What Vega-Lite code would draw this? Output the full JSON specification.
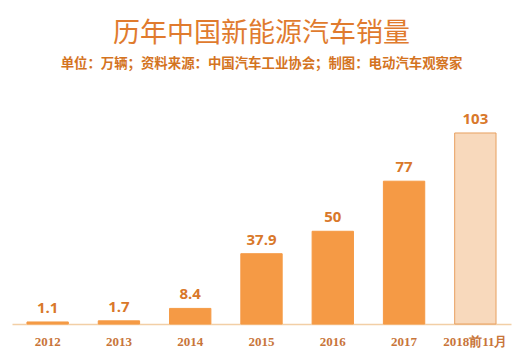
{
  "$schema": "https://vega.github.io/schema/vega-lite/v6.json",
  "width": 499,
  "height": 204,
  "autosize": {"type": "none"},
  "padding": {"left": 12, "top": 120, "right": 15, "bottom": 38},
  "background": "#ffffff",
  "title": {
    "text": "历年中国新能源汽车销量",
    "subtitle": "单位：万辆；资料来源：中国汽车工业协会；制图：电动汽车观察家",
    "anchor": "middle",
    "frame": "group",
    "font": "Noto Sans CJK SC",
    "fontSize": 27,
    "fontWeight": "normal",
    "color": "#E07B2E",
    "subtitleFont": "Noto Sans CJK SC",
    "subtitleFontSize": 13.4,
    "subtitleFontWeight": "bold",
    "subtitleColor": "#D4741F",
    "subtitlePadding": 9,
    "offset": 41
  },
  "data": {
    "values": [
      {"year": "2012", "sales": 1.1, "type": "actual"},
      {"year": "2013", "sales": 1.7, "type": "actual"},
      {"year": "2014", "sales": 8.4, "type": "actual"},
      {"year": "2015", "sales": 37.9, "type": "actual"},
      {"year": "2016", "sales": 50, "type": "actual"},
      {"year": "2017", "sales": 77, "type": "actual"},
      {"year": "2018前11月", "sales": 103, "type": "partial"}
    ]
  },
  "encoding": {
    "x": {
      "field": "year",
      "type": "nominal",
      "sort": null,
      "scale": {"paddingInner": 0.42, "paddingOuter": 0.21},
      "axis": {
        "title": null,
        "labelAngle": 0,
        "labelFont": "Liberation Serif",
        "labelFontSize": 13,
        "labelFontWeight": "bold",
        "labelColor": "#C8753A",
        "labelPadding": 11,
        "ticks": false,
        "domainColor": "#F2CFA6",
        "domainWidth": 1.5
      }
    },
    "y": {
      "field": "sales",
      "type": "quantitative",
      "scale": {"domain": [0, 110]},
      "axis": null
    }
  },
  "layer": [
    {
      "mark": {"type": "bar", "strokeWidth": 1},
      "encoding": {
        "color": {
          "field": "type",
          "type": "nominal",
          "scale": {"domain": ["actual", "partial"], "range": ["#F59A45", "#F8D9BC"]},
          "legend": null
        },
        "stroke": {
          "field": "type",
          "type": "nominal",
          "scale": {"domain": ["actual", "partial"], "range": ["#F59A45", "#E8A060"]},
          "legend": null
        }
      }
    },
    {
      "mark": {
        "type": "text",
        "baseline": "alphabetic",
        "dy": -9,
        "font": "Open Sans",
        "fontSize": 15,
        "fontWeight": "bold",
        "color": "#D9782A"
      },
      "encoding": {"text": {"field": "sales", "type": "quantitative"}}
    }
  ],
  "config": {"view": {"stroke": null}}
}
